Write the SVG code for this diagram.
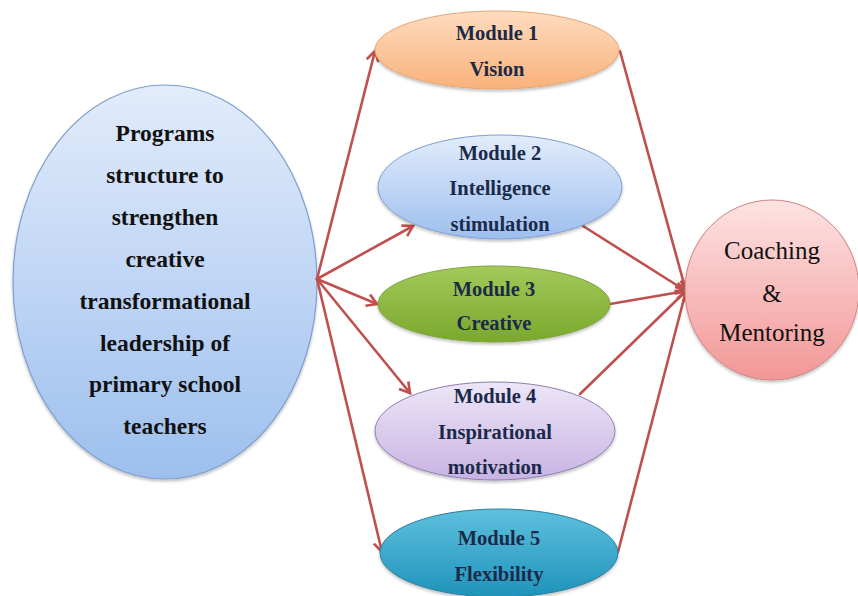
<svg xmlns="http://www.w3.org/2000/svg" width="858" height="596" viewBox="0 0 858 596">
<defs>
<linearGradient id="gBlue" x1="0" y1="0" x2="0" y2="1"><stop offset="0" stop-color="#e2ecfb"/><stop offset="1" stop-color="#9dbfee"/></linearGradient>
<linearGradient id="gOrange" x1="0" y1="0" x2="0" y2="1"><stop offset="0" stop-color="#fedcc0"/><stop offset="1" stop-color="#f9b27a"/></linearGradient>
<linearGradient id="gGreen" x1="0" y1="0" x2="0" y2="1"><stop offset="0" stop-color="#a3c95a"/><stop offset="1" stop-color="#7aa82c"/></linearGradient>
<linearGradient id="gPurple" x1="0" y1="0" x2="0" y2="1"><stop offset="0" stop-color="#ede6f7"/><stop offset="1" stop-color="#c8b3e3"/></linearGradient>
<linearGradient id="gTeal" x1="0" y1="0" x2="0" y2="1"><stop offset="0" stop-color="#5ec0de"/><stop offset="1" stop-color="#1f93ba"/></linearGradient>
<linearGradient id="gPink" x1="0" y1="0" x2="0" y2="1"><stop offset="0" stop-color="#fde3e3"/><stop offset="1" stop-color="#f29796"/></linearGradient>
<filter id="sh" x="-10%" y="-10%" width="120%" height="130%"><feDropShadow dx="0" dy="2" stdDeviation="1.5" flood-color="#000" flood-opacity="0.25"/></filter>
<marker id="ah" markerUnits="userSpaceOnUse" markerWidth="16" markerHeight="16" refX="13" refY="8" orient="auto" viewBox="0 0 16 16">
<path d="M3,2 L13,8 L3,14" fill="none" stroke="#c0504d" stroke-width="2.6" stroke-linejoin="miter"/>
</marker>
<style>
.mod{font-weight:bold;font-size:20.5px;fill:#1c2a4a;text-anchor:middle}
.main{font-weight:bold;font-size:23.5px;fill:#111;text-anchor:middle}
.cm{font-size:25px;fill:#111;text-anchor:middle}
.ln{stroke:#c0504d;stroke-width:2.6;fill:none;stroke-linecap:round}
</style>
</defs>
<rect width="858" height="596" fill="#fff"/>

<g id="program" font-family="Liberation Serif, DejaVu Serif, serif">
<ellipse cx="165" cy="282" rx="152" ry="197" fill="url(#gBlue)" stroke="#7f9fcd" stroke-width="1.2" filter="url(#sh)"/>
<text class="main" x="165" y="141">Programs</text>
<text class="main" x="165" y="183">structure  to</text>
<text class="main" x="165" y="225">strengthen</text>
<text class="main" x="165" y="267">creative</text>
<text class="main" x="165" y="309">transformational</text>
<text class="main" x="165" y="351">leadership  of</text>
<text class="main" x="165" y="392">primary  school</text>
<text class="main" x="165" y="434">teachers</text>
</g>

<g id="connectors">
<line class="ln" x1="317" y1="279" x2="375" y2="51" marker-end="url(#ah)"/>
<line class="ln" x1="317" y1="279" x2="413" y2="226" marker-end="url(#ah)"/>
<line class="ln" x1="317" y1="279" x2="377" y2="304" marker-end="url(#ah)"/>
<line class="ln" x1="317" y1="279" x2="410" y2="393" marker-end="url(#ah)"/>
<line class="ln" x1="317" y1="279" x2="382" y2="552" marker-end="url(#ah)"/>
<line class="ln" x1="620" y1="51" x2="686" y2="291" marker-end="url(#ah)"/>
<line class="ln" x1="583" y1="226" x2="686" y2="291" marker-end="url(#ah)"/>
<line class="ln" x1="610" y1="304" x2="686" y2="291" marker-end="url(#ah)"/>
<line class="ln" x1="580" y1="394" x2="686" y2="291" marker-end="url(#ah)"/>
<line class="ln" x1="618" y1="552" x2="686" y2="291" marker-end="url(#ah)"/>
</g>

<g id="module1" font-family="Liberation Serif, DejaVu Serif, serif">
<ellipse cx="497" cy="50" rx="122" ry="39" fill="url(#gOrange)" stroke="#e6a674" stroke-width="1" filter="url(#sh)"/>
<text class="mod" x="497" y="40">Module  1</text>
<text class="mod" x="497" y="76">Vision</text>
</g>

<g id="module2" font-family="Liberation Serif, DejaVu Serif, serif">
<ellipse cx="500" cy="187" rx="122" ry="52" fill="url(#gBlue)" stroke="#7f9fcd" stroke-width="1" filter="url(#sh)"/>
<text class="mod" x="500" y="160">Module  2</text>
<text class="mod" x="500" y="195">Intelligence</text>
<text class="mod" x="500" y="231">stimulation</text>
</g>

<g id="module3" font-family="Liberation Serif, DejaVu Serif, serif">
<ellipse cx="494" cy="304" rx="116" ry="38" fill="url(#gGreen)" stroke="#7ea13a" stroke-width="1" filter="url(#sh)"/>
<text class="mod" x="494" y="296">Module  3</text>
<text class="mod" x="494" y="330">Creative</text>
</g>

<g id="module4" font-family="Liberation Serif, DejaVu Serif, serif">
<ellipse cx="495" cy="431" rx="120" ry="49" fill="url(#gPurple)" stroke="#8f7fb3" stroke-width="1" filter="url(#sh)"/>
<text class="mod" x="495" y="403">Module  4</text>
<text class="mod" x="495" y="439">Inspirational</text>
<text class="mod" x="495" y="474">motivation</text>
</g>

<g id="module5" font-family="Liberation Serif, DejaVu Serif, serif">
<ellipse cx="499" cy="553" rx="119" ry="44" fill="url(#gTeal)" stroke="#2b7f9e" stroke-width="1" filter="url(#sh)"/>
<text class="mod" x="499" y="545">Module  5</text>
<text class="mod" x="499" y="581">Flexibility</text>
</g>

<g id="coaching" font-family="Liberation Serif, DejaVu Serif, serif">
<ellipse cx="772" cy="290" rx="87" ry="90" fill="url(#gPink)" stroke="#d08383" stroke-width="1" filter="url(#sh)"/>
<text class="cm" x="772" y="259">Coaching</text>
<text class="cm" x="772" y="302">&amp;</text>
<text class="cm" x="772" y="341">Mentoring</text>
</g>
</svg>
